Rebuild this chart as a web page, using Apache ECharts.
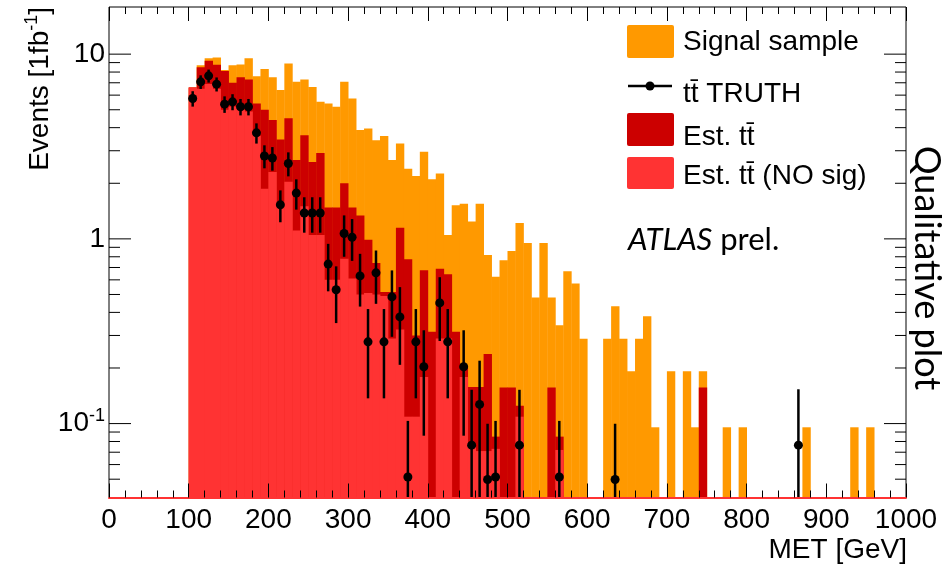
<!DOCTYPE html>
<html><head><meta charset="utf-8">
<script src="https://cdn.jsdelivr.net/npm/echarts@6/dist/echarts.min.js"></script>
<style>html,body{margin:0;padding:0;background:#fff;}#c{width:949px;height:567px;}</style>
</head><body><div id="c"></div>
<script>
// ---------------- data ----------------
const binWidth = 10;
const binLow = [100,110,120,130,140,150,160,170,180,190,200,210,220,230,240,250,260,270,280,290,
  300,310,320,330,340,350,360,370,380,390,400,410,420,430,440,450,460,470,480,490,
  500,510,520,530,540,550,560,570,580,590,600,610,620,630,640,650,660,670,680,690,
  700,710,720,730,740,750,760,770,780,790,800,810,820,830,840,850,860,870,880,890,
  900,910,920,930,940,950,960];
const signalSample = [6.6,8.7,9.5,9.6,8.2,8.7,8.8,9.5,7.6,8.3,7.5,6.4,8.9,7.1,7.3,6.65,5.52,5.4,5.19,7.08,
  5.75,3.88,3.96,3.42,3.6,2.67,3.28,2.4,2.19,2.96,2.1,2.26,1.05,1.52,1.55,1.24,1.55,0.817,0.623,0.767,
  0.861,1.22,0.951,0.482,0.951,0.482,0.341,0.668,0.573,0.288,0,0,0.288,0.432,0.288,0.192,0.288,0.381,0.0955,0,
  0.192,0,0.192,0.0955,0.192,0,0,0.0955,0,0.0955,0,0,0,0,0,0,0,0.0955,0,0,
  0,0,0,0.0955,0,0.0955,0];
const estTT = [6.6,8.5,9.2,8.75,8.1,7.0,7.5,7.3,5.4,5.0,4.4,3.45,4.5,2.67,3.64,2.61,2.92,1.48,1.48,2.0,
  1.48,1.34,0.99,0.74,0.516,0.516,1.15,0.775,0.30,0.677,0.314,0.69,0.644,0.314,0.2,0.158,0.158,0.238,0.085,0.157,
  0.157,0.125,0,0,0,0.157,0.085,0,0,0,0,0,0,0,0,0,0,0,0,0,
  0,0,0,0,0.157,0,0,0,0,0,0,0,0,0,0,0,0,0,0,0,
  0,0,0,0,0,0,0];
const estTTNoSig = [6.6,6.5,6.9,6.5,5.0,5.2,5.0,4.9,3.6,1.87,2.3,1.6,2.04,1.11,1.5,1.05,1.05,0.6,0.6,0.78,
  0.61,0.5,0.51,0.5,0.49,0.289,0.323,0.109,0.109,0.179,0,0.289,0.289,0,0.179,0.075,0.071,0.071,0.073,0,
  0,0.109,0,0,0,0,0.072,0,0,0,0,0,0,0,0,0,0,0,0,0,
  0,0,0,0,0,0,0,0,0,0,0,0,0,0,0,0,0,0,0,0,
  0,0,0,0,0,0,0];
const truthX = [105,115,125,135,145,155,165,175,185,195,205,215,225,235,245,255,265,275,285,295,
  305,315,325,335,345,355,365,375,385,395,415,425,445,455,465,475,485,515,565,635,865];
const truthY = [5.75,7.08,7.63,6.88,5.36,5.52,5.19,5.19,3.75,2.81,2.74,1.53,2.56,1.77,1.38,1.38,1.38,0.73,0.53,1.07,
  1.02,0.63,0.277,0.655,0.277,0.485,0.378,0.0514,0.277,0.203,0.45,0.277,0.203,0.0764,0.127,0.0498,0.0514,0.0764,0.0514,0.0498,0.0764];
const truthErr = [0.55,0.6,0.62,0.6,0.55,0.55,0.53,0.53,0.47,0.4,0.4,0.3,0.38,0.33,0.3,0.3,0.3,0.21,0.18,0.27,
  0.26,0.2,0.14,0.21,0.14,0.19,0.17,0.052,0.14,0.117,0.17,0.14,0.117,0.076,0.092,0.05,0.052,0.076,0.052,0.05,0.077];
const yTickValues = [0.1, 1, 10];
const yTickLabels = ['{b|10}{s|-1}', '{b|1}', '{b|10}'];
const yMinorTicks = [0.05,0.06,0.07,0.08,0.09,0.2,0.3,0.4,0.5,0.6,0.7,0.8,0.9,2,3,4,5,6,7,8,9];
const xTickValues = [0,100,200,300,400,500,600,700,800,900,1000];
const legendLabels = ['Signal sample', 'tt\u0304 TRUTH', 'Est. tt\u0304', 'Est. tt\u0304 (NO sig)'];

// ---------------- style ----------------
const FONT = '"Liberation Sans", Arial, Helvetica, sans-serif';
const C_SIG = '#ff9900', C_EST = '#cc0000', C_NOSIG = '#ff3333';
const Y_MIN = 0.0398, Y_MAX = 18;

function histSeries(name, values, color) {
  const data = [];
  binLow.forEach((x, i) => { if (values[i] > 0) data.push([x, values[i]]); });
  return {
    type: 'custom', name: name, data: data, encode: {x: 0, y: 1}, silent: true,
    renderItem: function (params, api) {
      const x0 = api.value(0), v = api.value(1);
      const cs = params.coordSys;
      const p = api.coord([x0, v]);
      const pr = api.coord([x0 + binWidth, v]);
      const bottom = cs.y + cs.height;
      const top = Math.max(p[1], cs.y);
      if (top >= bottom) return null;
      return {type: 'rect', shape: {x: p[0], y: top, width: pr[0] - p[0] + 0.4, height: bottom - top},
        style: {fill: color}};
    }
  };
}

const truthData = truthX.map((x, i) => [x, truthY[i], truthErr[i]]);
const yTickData = yTickValues.map(v => [0, v, 1]).concat(yMinorTicks.map(v => [0, v, 0]));

const chart = echarts.init(document.getElementById('c'), null, {renderer: 'canvas'});
chart.setOption({
  animation: false,
  backgroundColor: '#fff',
  grid: {left: 109, top: 7, width: 797, height: 490.5, show: true, borderColor: '#000', borderWidth: 1, backgroundColor: 'transparent'},
  xAxis: [{
    type: 'value', min: 0, max: 1000, interval: 100, position: 'bottom', z: 10,
    axisLine: {show: true, lineStyle: {color: C_NOSIG, width: 2}},
    axisTick: {show: true, inside: true, length: 14, lineStyle: {color: '#000', width: 1}},
    minorTick: {show: true, splitNumber: 5, length: 7, lineStyle: {color: '#000', width: 1}},
    splitLine: {show: false}, minorSplitLine: {show: false},
    axisLabel: {fontSize: 28, color: '#000', fontFamily: FONT, margin: 9,
      formatter: v => (xTickValues.indexOf(v) >= 0 ? String(v) : '')}
  }, {
    type: 'value', min: 0, max: 1000, interval: 100, position: 'top', z: 10,
    axisLine: {show: false},
    axisTick: {show: true, inside: true, length: 14, lineStyle: {color: '#000', width: 1}},
    minorTick: {show: true, splitNumber: 5, length: 7, lineStyle: {color: '#000', width: 1}},
    splitLine: {show: false}, axisLabel: {show: false}
  }],
  yAxis: {
    type: 'log', logBase: 10, min: Y_MIN, max: Y_MAX,
    axisLine: {show: false}, axisTick: {show: false}, splitLine: {show: false},
    axisLabel: {
      margin: 4, color: '#000', fontFamily: FONT,
      formatter: function (v) {
        for (let i = 0; i < yTickValues.length; i++) {
          if (Math.abs(Math.log10(v) - Math.log10(yTickValues[i])) < 1e-6) return yTickLabels[i];
        }
        return '';
      },
      rich: {
        b: {fontSize: 28, fontFamily: FONT, color: '#000'},
        s: {fontSize: 18, fontFamily: FONT, color: '#000', padding: [0, 0, 16, 0]}
      }
    }
  },
  series: [
    histSeries('Signal sample', signalSample, C_SIG),
    histSeries('Est. tt', estTT, C_EST),
    histSeries('Est. tt (NO sig)', estTTNoSig, C_NOSIG),
    {
      type: 'custom', name: 'yticks', data: yTickData, encode: {x: 0, y: 1}, silent: true, z: 5,
      renderItem: function (params, api) {
        const cs = params.coordSys;
        const y = api.coord([0, api.value(1)])[1];
        const len = api.value(2) ? 22 : 11;
        return {type: 'group', children: [
          {type: 'line', shape: {x1: cs.x, y1: y, x2: cs.x + len, y2: y}, style: {stroke: '#000', lineWidth: 1}},
          {type: 'line', shape: {x1: cs.x + cs.width - len, y1: y, x2: cs.x + cs.width, y2: y}, style: {stroke: '#000', lineWidth: 1}}
        ]};
      }
    },
    {
      type: 'custom', name: 'tt TRUTH', data: truthData, encode: {x: 0, y: 1}, silent: true, z: 6,
      renderItem: function (params, api) {
        const cs = params.coordSys;
        const bottom = cs.y + cs.height;
        const x = api.value(0), v = api.value(1), e = api.value(2);
        const p = api.coord([x, v]);
        const pt = api.coord([x, v + e])[1];
        const lo = v - e;
        const pb = lo > 0 ? api.coord([x, lo])[1] : bottom;
        return {type: 'group', children: [
          {type: 'line', shape: {x1: p[0], y1: Math.max(pt, cs.y), x2: p[0], y2: Math.min(pb, bottom)},
            style: {stroke: '#000', lineWidth: 2.5}},
          {type: 'circle', shape: {cx: p[0], cy: p[1], r: 4.5}, style: {fill: '#000'}}
        ]};
      }
    }
  ],
  graphic: [
    // legend
    {type: 'rect', left: 627, top: 25, shape: {width: 47, height: 33, r: 2}, style: {fill: C_SIG}, z: 20},
    {type: 'text', x: 683, y: 42, style: {text: legendLabels[0], font: '28px ' + FONT, fill: '#000', verticalAlign: 'middle'}, z: 20},
    {type: 'line', shape: {x1: 628, y1: 86, x2: 672, y2: 86}, style: {stroke: '#000', lineWidth: 2.5}, z: 20},
    {type: 'circle', shape: {cx: 650, cy: 86, r: 4.5}, style: {fill: '#000'}, z: 20},
    {type: 'text', x: 683, y: 94, style: {text: legendLabels[1], font: '28px ' + FONT, fill: '#000', verticalAlign: 'middle'}, z: 20},
    {type: 'rect', left: 627, top: 113, shape: {width: 47, height: 33, r: 2}, style: {fill: C_EST}, z: 20},
    {type: 'text', x: 683, y: 137, style: {text: legendLabels[2], font: '28px ' + FONT, fill: '#000', verticalAlign: 'middle'}, z: 20},
    {type: 'rect', left: 627, top: 157, shape: {width: 47, height: 32, r: 2}, style: {fill: C_NOSIG}, z: 20},
    {type: 'text', x: 683, y: 176, style: {text: legendLabels[3], font: '28px ' + FONT, fill: '#000', verticalAlign: 'middle'}, z: 20},
    // ATLAS label
    {type: 'text', x: 628, y: 240, z: 20, style: {
      text: '{i|ATLAS}{n| prel.}', verticalAlign: 'middle',
      rich: {i: {font: 'italic 31px Lato, "Open Sans", sans-serif', fill: '#000'},
             n: {font: '31px Lato, "Open Sans", sans-serif', fill: '#000'}}}},
    // right side label
    {type: 'text', x: 927, y: 268, rotation: -Math.PI / 2, z: 20, style: {
      text: 'Qualitative plot', font: '36px Lato, "Open Sans", sans-serif', fill: '#000', align: 'center', verticalAlign: 'middle'}},
    // axis titles
    {type: 'text', x: 907, y: 550, z: 20, style: {text: 'MET [GeV]', font: '28px ' + FONT, fill: '#000', align: 'right', verticalAlign: 'middle'}},
    {type: 'text', x: 40, y: 7, rotation: Math.PI / 2, z: 20, style: {
      text: '{a|Events [1fb}{s|-1}{a|]}', align: 'right', verticalAlign: 'middle',
      rich: {a: {font: '28px ' + FONT, fill: '#000'}, s: {font: '18px ' + FONT, fill: '#000', padding: [0, 0, 16, 0]}}}}
  ]
});
</script></body></html>
